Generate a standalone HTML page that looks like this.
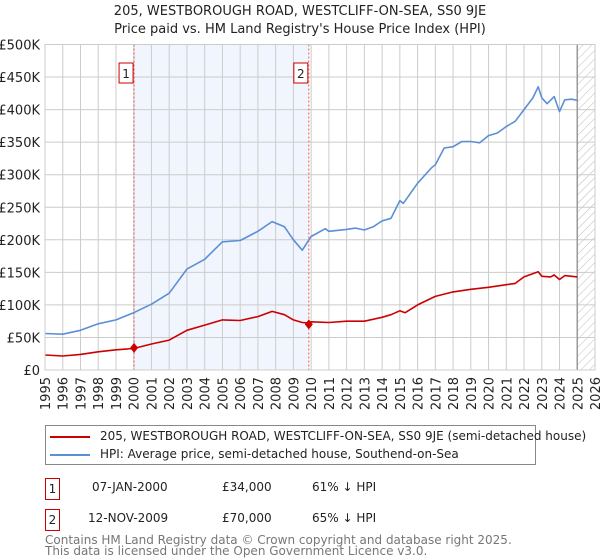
<!DOCTYPE html>
<html><head><meta charset="utf-8">
<style>
body{margin:0;background:#fff;font-family:"DejaVu Sans","Liberation Sans",sans-serif;}
#wrap{position:relative;width:600px;height:560px;overflow:hidden;}
.t{position:absolute;font-size:12px;color:#222;white-space:nowrap;font-family:"DejaVu Sans","Liberation Sans",sans-serif;}
</style></head>
<body>
<div id="wrap">
<svg id="chart" width="600" height="560" xmlns="http://www.w3.org/2000/svg" font-family="DejaVu Sans, Liberation Sans, sans-serif" style="position:absolute;left:0;top:0;">
<text x="300" y="15" text-anchor="middle" font-size="13" fill="#222">205, WESTBOROUGH ROAD, WESTCLIFF-ON-SEA, SS0 9JE</text>
<text x="300" y="33" text-anchor="middle" font-size="13" fill="#222">Price paid vs. HM Land Registry's House Price Index (HPI)</text>
<defs><pattern id="hatch" width="6" height="6" patternUnits="userSpaceOnUse" patternTransform="rotate(45)"><line x1="0" y1="0" x2="0" y2="6" stroke="#bbb" stroke-width="1"/></pattern></defs>
<g id="plot"></g>
</svg>
<div style="position:absolute;left:45px;top:425px;width:489px;height:38px;border:1px solid #888;">
 <div class="t" style="left:4px;top:3px;"><span style="display:inline-block;width:40px;height:2px;background:#cc0000;vertical-align:middle;margin-right:10px;"></span>205, WESTBOROUGH ROAD, WESTCLIFF-ON-SEA, SS0 9JE (semi-detached house)</div>
 <div class="t" style="left:4px;top:21px;"><span style="display:inline-block;width:40px;height:2px;background:#5b8fd6;vertical-align:middle;margin-right:10px;"></span>HPI: Average price, semi-detached house, Southend-on-Sea</div>
</div>
<div class="t" style="left:45px;top:478px;width:13px;height:20px;border:1px solid #cc0000;text-align:center;line-height:20px;">1</div>
<div class="t" style="left:92px;top:480px;">07-JAN-2000</div>
<div class="t" style="left:222px;top:480px;">£34,000</div>
<div class="t" style="left:312px;top:480px;">61% ↓ HPI</div>
<div class="t" style="left:45px;top:509px;width:13px;height:20px;border:1px solid #cc0000;text-align:center;line-height:20px;">2</div>
<div class="t" style="left:88px;top:511px;">12-NOV-2009</div>
<div class="t" style="left:222px;top:511px;">£70,000</div>
<div class="t" style="left:312px;top:511px;">65% ↓ HPI</div>
<div class="t" style="left:45px;top:535px;font-size:12px;line-height:11px;color:#777;">Contains HM Land Registry data © Crown copyright and database right 2025.<br>This data is licensed under the Open Government Licence v3.0.</div>
</div>
<script>
const hpiYears=[1995,1996,1997,1998,1999,2000,2001,2002,2003,2004,2005,2006,2007,2007.8,2008.5,2009,2009.5,2010,2010.8,2011,2012,2012.5,2013,2013.5,2014,2014.5,2015,2015.2,2016,2016.8,2017,2017.5,2018,2018.5,2019,2019.5,2020,2020.5,2021,2021.5,2022,2022.5,2022.8,2023,2023.3,2023.7,2024,2024.3,2024.7,2025];
const hpiValues=[56,55,61,71,77,88,101,118,155,170,197,199,213,228,220,200,184,205,217,213,216,218,215,220,229,233,260,256,287,311,315,341,343,351,351,349,360,364,374,382,400,418,435,418,409,420,397,415,416,414];
const propYears=[1995,1996,1997,1998,1999,2000,2001,2002,2003,2004,2005,2006,2007,2007.8,2008.5,2009,2009.5,2009.87,2010,2011,2012,2013,2014,2014.5,2015,2015.3,2016,2017,2018,2019,2020,2021,2021.5,2022,2022.8,2023,2023.5,2023.7,2024,2024.3,2025];
const propValues=[23,21.5,24,28,31,33,40,46,61,69,77,76,82,90,85,77,73,72,74,73,75,75,81,85,91,88,100,113,120,124,127,131,133,143,151,144,143,146,139,145,143];
const saleYears=[2000.02,2009.87];
const saleValues=[34,70];
const saleLabels=["1","2"];
const yTicks=[0,50,100,150,200,250,300,350,400,450,500];
const yTickLabels=["£0","£50K","£100K","£150K","£200K","£250K","£300K","£350K","£400K","£450K","£500K"];
const xTicks=[1995,1996,1997,1998,1999,2000,2001,2002,2003,2004,2005,2006,2007,2008,2009,2010,2011,2012,2013,2014,2015,2016,2017,2018,2019,2020,2021,2022,2023,2024,2025,2026];

const X0=45,X1=595,Y0=370,Y1=44.5;
const xs=y=>X0+(y-1995)/(2026-1995)*(X1-X0);
const ys=v=>Y0-v/500*(Y0-Y1);
const NS="http://www.w3.org/2000/svg";
const g=document.getElementById('plot');
function mk(t,a){const e=document.createElementNS(NS,t);for(const k in a)e.setAttribute(k,a[k]);g.appendChild(e);return e;}

let r=mk('rect',{x:xs(saleYears[0]),y:Y1,width:xs(saleYears[1])-xs(saleYears[0]),height:Y0-Y1,fill:'#eef3fc',opacity:0.8});


r=mk('rect',{x:xs(2025),y:Y1,width:X1-xs(2025),height:Y0-Y1,fill:'url(#hatch)'});



yTicks.forEach((v,i)=>{
 let l=mk('line',{x1:X0,x2:X1,y1:ys(v),y2:ys(v),stroke:'#ccc','stroke-width':1});
 
 
 let t=mk('text',{x:40,y:ys(v)+5,'text-anchor':'end','font-size':13,fill:'#222'});
 t.textContent=yTickLabels[i];
 
 
});
xTicks.forEach(y=>{
 let l=mk('line',{x1:xs(y),x2:xs(y),y1:Y1,y2:Y0,stroke:'#ccc','stroke-width':1});
 
 
 let t=mk('text',{x:0,y:0,'text-anchor':'end','font-size':13,fill:'#222',transform:`translate(${xs(y)+5},${Y0+7}) rotate(-90)`});
 t.textContent=y;
 
 
});
let v=mk('line',{x1:xs(2025),x2:xs(2025),y1:Y1,y2:Y0,stroke:'#999','stroke-width':1.5});



saleYears.forEach((y,i)=>{
 let l=mk('line',{x1:xs(y),x2:xs(y),y1:Y1,y2:Y0,stroke:'#e55','stroke-width':1,'stroke-dasharray':'2,2'});
 
 
 let b=mk('rect',{x:xs(y)-15,y:63,width:14,height:20,fill:'#fff',stroke:'#cc0000','stroke-width':1});
 
 
 let t=mk('text',{x:xs(y)-8,y:78,'text-anchor':'middle','font-size':12,fill:'#222'});
 t.textContent=saleLabels[i];
 
 
});

function path(xa,va,col,name){
 const d=xa.map((y,i)=>(i?'L':'M')+xs(y).toFixed(1)+','+ys(va[i]).toFixed(1)).join('');
 let p=mk('path',{d:d,fill:'none',stroke:col,'stroke-width':1.6,'stroke-linejoin':'round'});
 
 
}
path(hpiYears,hpiValues,'#5b8fd6','hpi-line');
path(propYears,propValues,'#cc0000','property-price-line');
saleYears.forEach((y,i)=>{
 let c=mk('path',{d:`M${xs(y)},${ys(saleValues[i])-5}l4,5l-4,5l-4,-5z`,fill:'#cc0000'});
 
 
});
let ax=mk('rect',{x:X0,y:Y1,width:X1-X0,height:Y0-Y1,fill:'none',stroke:'#ccc'});


</script>
</body></html>
